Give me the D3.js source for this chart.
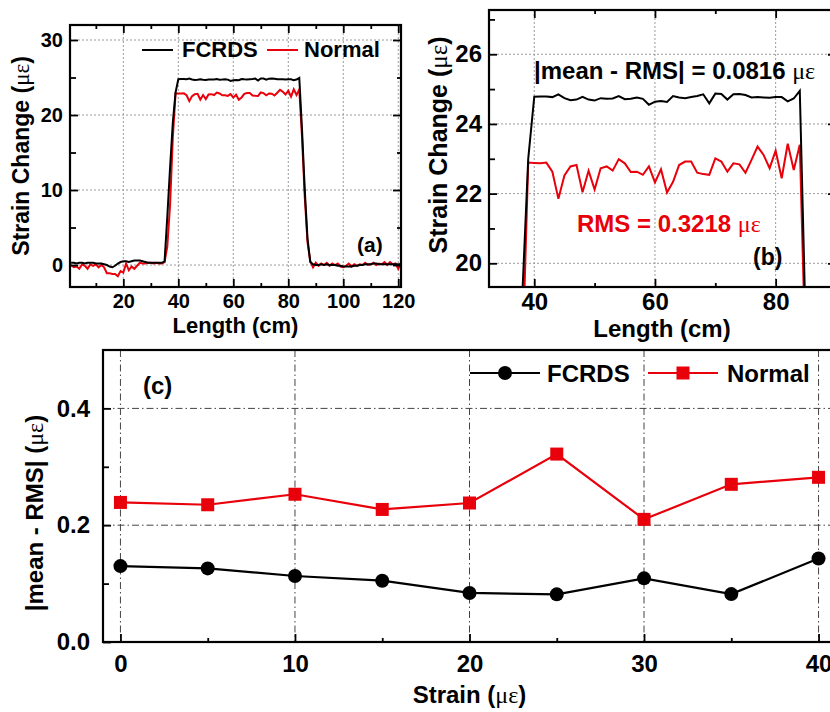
<!DOCTYPE html>
<html>
<head>
<meta charset="utf-8">
<script src="https://cdn.jsdelivr.net/npm/d3@7"></script>
<style>
  body { margin: 0; background: #fff; }
  svg { display: block; font-family: Arial, "Liberation Sans", sans-serif; font-weight: bold; }
  .greek { font-family: "Liberation Serif", "Times New Roman", serif; font-weight: normal; }
</style>
</head>
<body>
<svg id="chart"></svg>
<script>
// Panels (a) and (b): strain profile along the fibre
const lengthCm = [
  1, 2, 3, 4, 5, 6, 7, 8, 9, 10, 11, 12, 13, 14, 15, 16, 17, 18, 19, 20,
  21, 22, 23, 24, 25, 26, 27, 28, 29, 30, 31, 32, 33, 34, 35, 36, 37, 38, 39, 40,
  41, 42, 43, 44, 45, 46, 47, 48, 49, 50, 51, 52, 53, 54, 55, 56, 57, 58, 59, 60,
  61, 62, 63, 64, 65, 66, 67, 68, 69, 70, 71, 72, 73, 74, 75, 76, 77, 78, 79, 80,
  81, 82, 83, 84, 85, 86, 87, 88, 89, 90, 91, 92, 93, 94, 95, 96, 97, 98, 99, 100,
  101, 102, 103, 104, 105, 106, 107, 108, 109, 110, 111, 112, 113, 114, 115, 116, 117, 118, 119, 120, 121
];
const fcrdsStrain = [
  0.3, 0.3, 0.2, 0.3, 0.3, 0.2, 0.3, 0.3, 0.3, 0.2,
  0.2, 0.2, 0.1, 0.0, -0.2, -0.3, -0.1, 0.2, 0.4, 0.5,
  0.5, 0.4, 0.5, 0.6, 0.6, 0.6, 0.5, 0.4, 0.3, 0.3,
  0.3, 0.3, 0.3, 0.3, 0.5, 6.5, 13.0, 19.0, 23.0, 24.78,
  24.79, 24.79, 24.77, 24.85, 24.74, 24.68, 24.70, 24.78, 24.70, 24.67,
  24.74, 24.72, 24.73, 24.80, 24.71, 24.72, 24.76, 24.72, 24.55, 24.64,
  24.66, 24.63, 24.80, 24.76, 24.74, 24.77, 24.80, 24.85, 24.59, 24.87,
  24.86, 24.70, 24.85, 24.86, 24.83, 24.76, 24.77, 24.76, 24.75, 24.77,
  24.77, 24.65, 24.73, 24.95, 18.0, 10.0, 3.5, 0.4, 0.1, 0.0,
  0.0, 0.1, 0.0, 0.1, 0.0, 0.0, 0.0, -0.1, -0.1, -0.2,
  -0.2, -0.2, -0.2, -0.1, -0.1, 0.0, 0.0, 0.1, 0.1, 0.1,
  0.2, 0.2, 0.1, 0.1, 0.1, 0.1, 0.1, 0.1, 0.1, 0.1, 0.1
];
const normalStrain = [
  0.0, -0.3, -0.2, -0.5, 0.1, -0.1, -0.5, 0.1, -0.1, 0.1,
  -0.3, 0.0, -0.3, -1.1, -1.1, -1.2, -1.2, -1.5, -0.8, -1.0,
  0.2, -0.7, -0.2, -0.5, -0.1, 0.3, 0.2, 0.2, 0.3, 0.3,
  0.2, 0.3, 0.2, 0.2, 0.4, 2.5, 8.0, 17.0, 22.89, 22.88,
  22.87, 22.89, 22.63, 21.85, 22.52, 22.78, 22.82, 22.04, 22.66, 22.12,
  22.73, 22.78, 22.66, 22.99, 22.87, 22.62, 22.63, 22.54, 22.78, 22.32,
  22.70, 22.03, 22.34, 22.82, 22.92, 22.92, 22.60, 22.56, 22.54, 23.01,
  22.92, 22.63, 22.87, 22.84, 22.60, 22.97, 23.35, 23.11, 22.73, 23.23,
  22.44, 23.43, 22.68, 23.40, 17.0, 9.0, 3.0, 0.5, -0.3, 0.3,
  -0.1, 0.2, 0.0, 0.3, -0.1, 0.2, 0.0, 0.2, -0.2, -0.3,
  -0.1, 0.2, -0.2, 0.1, -0.1, 0.1, 0.0, 0.3, 0.0, 0.1,
  0.3, 0.0, 0.2, 0.1, 0.4, 0.0, 0.4, 0.1, 0.2, -0.5, 0.3
];

// Panel (c): |mean - RMS| against applied strain
const strainLevels = [0, 5, 10, 15, 20, 25, 30, 35, 40];
const fcrdsDev = [0.130, 0.126, 0.113, 0.105, 0.084, 0.0816, 0.109, 0.082, 0.143];
const normalDev = [0.239, 0.235, 0.253, 0.227, 0.238, 0.3218, 0.210, 0.270, 0.282];

// Tick values
const aTicksX = [20, 40, 60, 80, 100, 120], aMinorX = [10, 30, 50, 70, 90, 110];
const aTicksY = [0, 10, 20, 30], aMinorY = [5, 15, 25];
const bTicksX = [40, 60, 80], bMinorX = [50, 70];
const bTicksY = [20, 22, 24, 26], bMinorY = [21, 23, 25, 27];
const cTicksX = [0, 10, 20, 30, 40], cMinorX = [5, 15, 25, 35];
const cTicksY = [0.0, 0.2, 0.4], cMinorY = [0.1, 0.3];

const width = 830;
const height = 712;
const red = "#e8000b";

const svg = d3.select("#chart")
    .attr("width", width)
    .attr("height", height);

// Draw a framed panel with inward ticks and grid, return its scales
function panel(c) {
    const x = d3.scaleLinear().domain(c.xDomain).range([c.left, c.right]);
    const y = d3.scaleLinear().domain(c.yDomain).range([c.bottom, c.top]);
    const g = svg.append("g");

    // grid
    g.append("g").selectAll("line").data(c.xMajor).join("line")
        .attr("x1", d => x(d)).attr("x2", d => x(d))
        .attr("y1", c.top).attr("y2", c.bottom)
        .attr("stroke", c.gridColor).attr("stroke-width", 1)
        .attr("stroke-dasharray", c.gridDash);
    g.append("g").selectAll("line").data(c.yMajor.filter(d => d !== c.yDomain[0])).join("line")
        .attr("x1", c.left).attr("x2", c.right)
        .attr("y1", d => y(d)).attr("y2", d => y(d))
        .attr("stroke", c.gridColor).attr("stroke-width", 1)
        .attr("stroke-dasharray", c.gridDash);

    g.append("clipPath").attr("id", c.id + "-clip")
        .append("rect")
        .attr("x", c.left).attr("y", c.top)
        .attr("width", c.right - c.left).attr("height", c.bottom - c.top);
    const plot = g.append("g").attr("clip-path", `url(#${c.id}-clip)`);

    const axes = [
        [d3.axisBottom(x).tickValues(c.xMajor).tickSize(-8).tickPadding(c.padX).tickFormat(c.xFormat), `translate(0,${c.bottom})`],
        [d3.axisBottom(x).tickValues(c.xMinor).tickSize(-4).tickFormat(""), `translate(0,${c.bottom})`],
        [d3.axisLeft(y).tickValues(c.yMajor).tickSize(-8).tickPadding(c.padY).tickFormat(c.yFormat), `translate(${c.left},0)`],
        [d3.axisLeft(y).tickValues(c.yMinor).tickSize(-6).tickFormat(""), `translate(${c.left},0)`]
    ];
    if (c.mirror) {
        axes.push(
            [d3.axisTop(x).tickValues(c.xMajor).tickSize(-8).tickFormat(""), `translate(0,${c.top})`],
            [d3.axisTop(x).tickValues(c.xMinor).tickSize(-4).tickFormat(""), `translate(0,${c.top})`],
            [d3.axisRight(y).tickValues(c.yMajor).tickSize(-8).tickFormat(""), `translate(${c.right},0)`],
            [d3.axisRight(y).tickValues(c.yMinor).tickSize(-4).tickFormat(""), `translate(${c.right},0)`]
        );
    }
    axes.forEach(([axis, tr]) => {
        const a = g.append("g").attr("transform", tr).call(axis)
            .attr("font-family", null).attr("font-size", c.fontSize);
        a.select(".domain").remove();
        a.selectAll(".tick line").attr("stroke-width", 1.8);
    });

    g.append("rect")
        .attr("x", c.left).attr("y", c.top)
        .attr("width", c.right - c.left).attr("height", c.bottom - c.top)
        .attr("fill", "none").attr("stroke", "#000").attr("stroke-width", 2.2);

    return { g, plot, x, y };
}

function titleText(sel, before, after) {
    sel.append("tspan").text(before);
    sel.append("tspan").attr("class", "greek").text("\u03bc\u03b5");
    sel.append("tspan").text(after);
}

// ---------- panel (a) ----------
const pa = panel({
    id: "pa", left: 70, right: 401, top: 25, bottom: 287,
    xDomain: [0.6, 121], yDomain: [-2.93, 32],
    xMajor: aTicksX, xMinor: aMinorX, yMajor: aTicksY, yMinor: aMinorY,
    xFormat: d3.format("d"), yFormat: d3.format("d"), padX: 7, padY: 7,
    fontSize: 20, mirror: true, gridColor: "#9a9a9a", gridDash: "2,2"
});

const lineA = d3.line().x((d, i) => pa.x(lengthCm[i])).y(d => pa.y(d));
pa.plot.append("path").datum(normalStrain)
    .attr("d", lineA).attr("fill", "none").attr("stroke", red).attr("stroke-width", 2);
pa.plot.append("path").datum(fcrdsStrain)
    .attr("d", lineA).attr("fill", "none").attr("stroke", "#000").attr("stroke-width", 2);

// legend (a)
const legA = [["FCRDS", "#000", 142, 182], ["Normal", red, 267, 304]];
legA.forEach(([name, col, lx, tx]) => {
    svg.append("line").attr("x1", lx).attr("x2", lx + 31).attr("y1", 50).attr("y2", 50)
        .attr("stroke", col).attr("stroke-width", 2);
    svg.append("text").attr("x", tx).attr("y", 57).attr("font-size", 22).text(name);
});
svg.append("text").attr("x", 357).attr("y", 252).attr("font-size", 21).text("(a)");

svg.append("text").attr("x", 235.5).attr("y", 333).attr("text-anchor", "middle")
    .attr("font-size", 22).text("Length (cm)");
svg.append("text").attr("transform", "translate(29,156) rotate(-90)").attr("text-anchor", "middle")
    .attr("font-size", 23).call(titleText, "Strain Change (", ")");

// ---------- panel (b) ----------
const pb = panel({
    id: "pb", left: 489, right: 836, top: 10, bottom: 287,
    xDomain: [32.5, 90], yDomain: [19.32, 27.27],
    xMajor: bTicksX, xMinor: bMinorX, yMajor: bTicksY, yMinor: bMinorY,
    xFormat: d3.format("d"), yFormat: d3.format("d"), padX: 6, padY: 7,
    fontSize: 24, mirror: true, gridColor: "#9a9a9a", gridDash: "2,2"
});

const lineB = d3.line().x((d, i) => pb.x(lengthCm[i])).y(d => pb.y(d));
pb.plot.append("path").datum(normalStrain)
    .attr("d", lineB).attr("fill", "none").attr("stroke", red).attr("stroke-width", 2);
pb.plot.append("path").datum(fcrdsStrain)
    .attr("d", lineB).attr("fill", "none").attr("stroke", "#000").attr("stroke-width", 2);

svg.append("text").attr("x", 534).attr("y", 79).attr("font-size", 24)
    .call(titleText, "|mean - RMS| = 0.0816 ", "");
svg.append("text").attr("x", 577).attr("y", 232).attr("font-size", 24).attr("fill", red)
    .call(titleText, "RMS = 0.3218 ", "");
svg.append("text").attr("x", 753).attr("y", 265).attr("font-size", 23).text("(b)");

svg.append("text").attr("x", 662).attr("y", 337).attr("text-anchor", "middle")
    .attr("font-size", 24).text("Length (cm)");
svg.append("text").attr("transform", "translate(447,145) rotate(-90)").attr("text-anchor", "middle")
    .attr("font-size", 25).call(titleText, "Strain Change (", ")");

// ---------- panel (c) ----------
const pc = panel({
    id: "pc", left: 103, right: 836, top: 350, bottom: 642,
    xDomain: [-1, 41], yDomain: [0, 0.5],
    xMajor: cTicksX, xMinor: cMinorX, yMajor: cTicksY, yMinor: cMinorY,
    xFormat: d3.format("d"), yFormat: d3.format(".1f"), padX: 13, padY: 13,
    fontSize: 24, mirror: false, gridColor: "#444", gridDash: "7,3,1.5,3"
});

const lineC = d3.line().x((d, i) => pc.x(strainLevels[i])).y(d => pc.y(d));
pc.plot.append("path").datum(normalDev)
    .attr("d", lineC).attr("fill", "none").attr("stroke", red).attr("stroke-width", 2.2);
pc.plot.append("path").datum(fcrdsDev)
    .attr("d", lineC).attr("fill", "none").attr("stroke", "#000").attr("stroke-width", 2.2);
pc.plot.selectAll(".sq").data(normalDev).join("rect")
    .attr("x", (d, i) => pc.x(strainLevels[i]) - 6.5).attr("y", d => pc.y(d) - 6.5)
    .attr("width", 13).attr("height", 13).attr("fill", red);
pc.plot.selectAll(".dot").data(fcrdsDev).join("circle")
    .attr("cx", (d, i) => pc.x(strainLevels[i])).attr("cy", d => pc.y(d))
    .attr("r", 7).attr("fill", "#000");

// legend (c)
svg.append("line").attr("x1", 470).attr("x2", 540).attr("y1", 373).attr("y2", 373)
    .attr("stroke", "#000").attr("stroke-width", 2.2);
svg.append("circle").attr("cx", 505).attr("cy", 373).attr("r", 7).attr("fill", "#000");
svg.append("text").attr("x", 547).attr("y", 382).attr("font-size", 24).text("FCRDS");
svg.append("line").attr("x1", 648).attr("x2", 718).attr("y1", 373).attr("y2", 373)
    .attr("stroke", red).attr("stroke-width", 2.2);
svg.append("rect").attr("x", 676.5).attr("y", 366.5).attr("width", 13).attr("height", 13).attr("fill", red);
svg.append("text").attr("x", 727).attr("y", 382).attr("font-size", 24).text("Normal");
svg.append("text").attr("x", 143).attr("y", 394).attr("font-size", 24).text("(c)");

svg.append("text").attr("x", pc.x(20)).attr("y", 703).attr("text-anchor", "middle")
    .attr("font-size", 24).call(titleText, "Strain (", ")");
svg.append("text").attr("transform", "translate(43,513) rotate(-90)").attr("text-anchor", "middle")
    .attr("font-size", 24).call(titleText, "|mean - RMS| (", ")");
</script>
</body>
</html>
